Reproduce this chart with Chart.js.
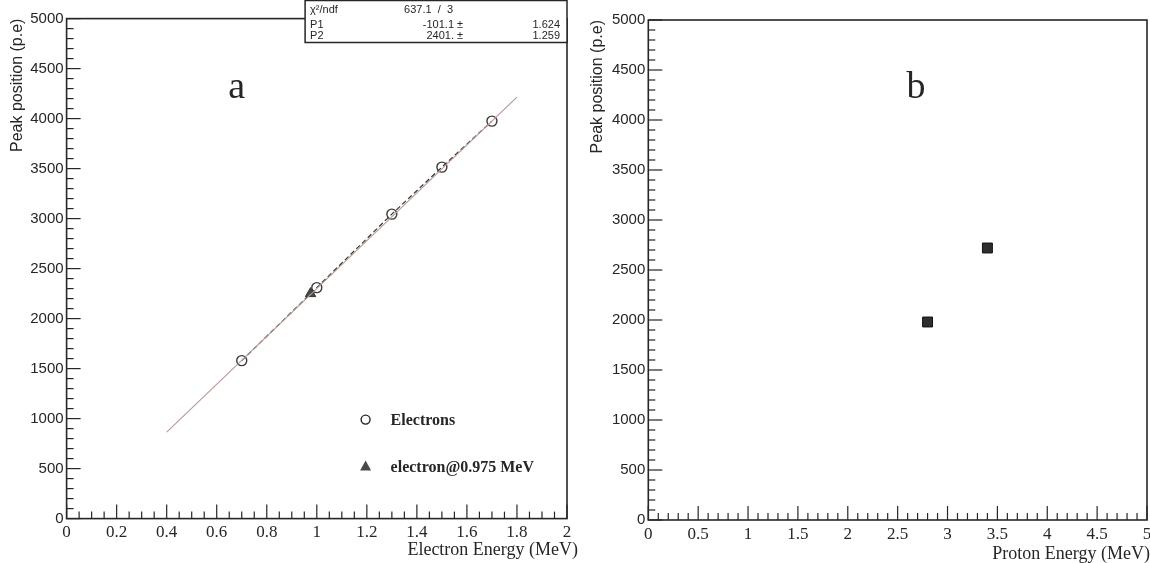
<!DOCTYPE html>
<html>
<head>
<meta charset="utf-8">
<script src="https://cdn.jsdelivr.net/npm/chart.js@4.4.1/dist/chart.umd.min.js"></script>
<style>
html,body{margin:0;padding:0;background:#fff;}
#wrap{position:relative;width:1150px;height:563px;overflow:hidden;background:#fff;}
#left{position:absolute;left:0;top:0;}
#right{position:absolute;left:580px;top:0;}
</style>
</head>
<body>
<div id="wrap">
  <canvas id="left" width="580" height="563"></canvas>
  <canvas id="right" width="570" height="563"></canvas>
</div>
<script>
// panel a : electrons
const electronE = [0.7, 1.0, 1.3, 1.5, 1.7];
const electronPeak = [1580, 2310, 3045, 3515, 3975];
const refE = [0.975];
const refPeak = [2250];
const fitE = [0.4, 1.8];
const fitPeak = [865, 4215];
const fitRows = [
  ["χ²/ndf", "637.1  /  3", ""],
  ["P1", "-101.1 ±", "1.624"],
  ["P2", "2401. ±", "1.259"]
];
const legendNames = ["Electrons", "electron@0.975 MeV"];
const xTicksA = [0, 0.2, 0.4, 0.6, 0.8, 1, 1.2, 1.4, 1.6, 1.8, 2];

// panel b : protons
const protonE = [2.8, 3.4];
const protonPeak = [1980, 2720];
const xTicksB = [0, 0.5, 1, 1.5, 2, 2.5, 3, 3.5, 4, 4.5, 5];

// shared y axis
const yTicks = [0, 500, 1000, 1500, 2000, 2500, 3000, 3500, 4000, 4500, 5000];

const INK = "#262626";
const SERIF = "'Liberation Serif', 'DejaVu Serif', serif";
const SANS = "'Liberation Sans', Arial, sans-serif";

function pts(xs, ys){ return xs.map((x,i)=>({x, y:ys[i]})); }

// ROOT look: frame, ticks inside, x title, panel letter, extras
const rootStyle = {
  id: "rootStyle",
  afterDraw(chart, args, o){
    const {ctx, chartArea:a, scales:{x, y}} = chart;
    ctx.save();
    ctx.strokeStyle = INK;
    ctx.lineWidth = 1.2;
    const seg = (x1,y1,x2,y2)=>{ ctx.beginPath(); ctx.moveTo(x1,y1); ctx.lineTo(x2,y2); ctx.stroke(); };

    const xt = x.ticks.map(t=>t.value);
    xt.forEach((v,i)=>{
      const px = x.getPixelForValue(v);
      seg(px, a.bottom, px, a.bottom-14);
      if(i < xt.length-1){
        for(let k=1;k<o.xDiv;k++){
          const m = x.getPixelForValue(v + (xt[i+1]-v)*k/o.xDiv);
          seg(m, a.bottom, m, a.bottom-7);
        }
      }
    });
    const yt = y.ticks.map(t=>t.value);
    yt.forEach((v,i)=>{
      const py = y.getPixelForValue(v);
      seg(a.left, py, a.left+14, py);
      if(i < yt.length-1){
        for(let k=1;k<5;k++){
          const m = y.getPixelForValue(v + (yt[i+1]-v)*k/5);
          seg(a.left, m, a.left+7, m);
        }
      }
    });

    ctx.lineWidth = 1.6;
    ctx.strokeRect(a.left, a.top, a.right-a.left, a.bottom-a.top);

    // x title, right aligned a little past the frame
    ctx.fillStyle = INK;
    ctx.font = "18px " + SERIF;
    ctx.textAlign = "right";
    ctx.textBaseline = "middle";
    ctx.fillText(o.xTitle, a.right + o.xTitleShift, a.bottom + o.xTitleDrop);

    // panel letter
    ctx.font = "38px " + SERIF;
    ctx.textAlign = "center";
    ctx.fillText(o.letter, x.getPixelForValue(o.letterAt[0]), y.getPixelForValue(o.letterAt[1]));

    if(o.legend){
      // legend
      const lx = a.left + 299, r1 = a.bottom - 99, r2 = a.bottom - 52;
      ctx.lineWidth = 1.4;
      ctx.beginPath(); ctx.arc(lx, r1, 4.5, 0, Math.PI*2); ctx.stroke();
      ctx.fillStyle = "#4a4a4a";
      ctx.beginPath(); ctx.moveTo(lx, r2-6); ctx.lineTo(lx+5.5, r2+4); ctx.lineTo(lx-5.5, r2+4); ctx.closePath(); ctx.fill();
      ctx.fillStyle = INK;
      ctx.font = "bold 16px " + SERIF;
      ctx.textAlign = "left";
      ctx.fillText(legendNames[0], lx + 25, r1 + 1);
      ctx.fillText(legendNames[1], lx + 25, r2 + 1);

      // fit statistics box
      const bx = a.left + 238.5, bw = a.right - bx, by = 0.5, bh = 42;
      ctx.fillStyle = "#fff";
      ctx.fillRect(bx, by, bw, bh);
      ctx.lineWidth = 1.5;
      ctx.strokeRect(bx, by, bw, bh);
      ctx.fillStyle = INK;
      ctx.font = "11px " + SANS;
      const rowY = [10, 25, 36];
      fitRows.forEach((r,i)=>{
        ctx.textAlign = "left";
        ctx.fillText(r[0], bx + 5, rowY[i]);
        if(i === 0){
          ctx.fillText(r[1], bx + 99, rowY[i]);
        } else {
          ctx.textAlign = "right";
          ctx.fillText(r[1], bx + 158, rowY[i]);
          ctx.fillText(r[2], bx + bw - 7, rowY[i]);
        }
      });
    }
    ctx.restore();
  }
};

function makeChart(id, datasets, xTicks, box, style){
  return new Chart(document.getElementById(id), {
    type: "scatter",
    data: { datasets },
    options: {
      responsive: false,
      animation: false,
      devicePixelRatio: 1,
      layout: { autoPadding: false, padding: { top: box.top, right: box.right, left: 0, bottom: 0 } },
      plugins: { legend: { display: false }, tooltip: { enabled: false }, rootStyle: style },
      scales: {
        x: {
          type: "linear", min: xTicks[0], max: xTicks[xTicks.length-1],
          grid: { display: false, drawTicks: false }, border: { display: false },
          afterBuildTicks: s => { s.ticks = xTicks.map(v=>({value:v})); },
          afterFit: s => { s.height = box.xHeight; s.paddingLeft = s.paddingRight = 0; },
          ticks: { padding: 4, color: INK, font: { family: SERIF, size: 17 }, maxRotation: 0, autoSkip: false, callback: v => String(v) }
        },
        y: {
          type: "linear", min: 0, max: 5000,
          grid: { display: false, drawTicks: false }, border: { display: false },
          afterBuildTicks: s => { s.ticks = yTicks.map(v=>({value:v})); },
          afterFit: s => { s.width = box.yWidth; s.paddingTop = s.paddingBottom = 0; },
          ticks: { padding: 3, color: INK, font: { family: SANS, size: 15 }, autoSkip: false, callback: v => String(v) },
          title: { display: true, text: "Peak position (p.e)", align: "end", color: INK, font: { family: SANS, size: 16 }, padding: { top: 8, bottom: 0 } }
        }
      }
    },
    plugins: [rootStyle]
  });
}

makeChart("left", [
  { type: "line", data: pts(fitE, fitPeak), borderColor: "#b99c96", borderWidth: 1.2, pointRadius: 0, fill: false },
  { data: pts(electronE, electronPeak), showLine: true, borderColor: "#333", borderWidth: 1.2, borderDash: [5, 3],
    pointStyle: "circle", pointRadius: 5, pointBorderColor: "#3a3a3a", pointBorderWidth: 1.4, pointBackgroundColor: "rgba(255,255,255,0)" },
  { data: pts(refE, refPeak), pointStyle: "triangle", pointRadius: 6, pointBackgroundColor: "#4a4a4a", pointBorderColor: "#333", pointBorderWidth: 1 }
], xTicksA, { top: 18.6, right: 13, xHeight: 44.4, yWidth: 66.6 },
{ xDiv: 4, xTitle: "Electron Energy (MeV)", xTitleShift: 11, xTitleDrop: 32, letter: "a", letterAt: [0.68, 4305], legend: true });

makeChart("right", [
  { data: pts(protonE, protonPeak), pointStyle: "rect", pointRadius: 7, pointBackgroundColor: "#2e2e2e", pointBorderColor: "#111", pointBorderWidth: 1 }
], xTicksB, { top: 20, right: 3, xHeight: 43, yWidth: 68.3 },
{ xDiv: 5, xTitle: "Proton Energy (MeV)", xTitleShift: 3, xTitleDrop: 34, letter: "b", letterAt: [2.685, 4320], legend: false });
</script>
</body>
</html>
